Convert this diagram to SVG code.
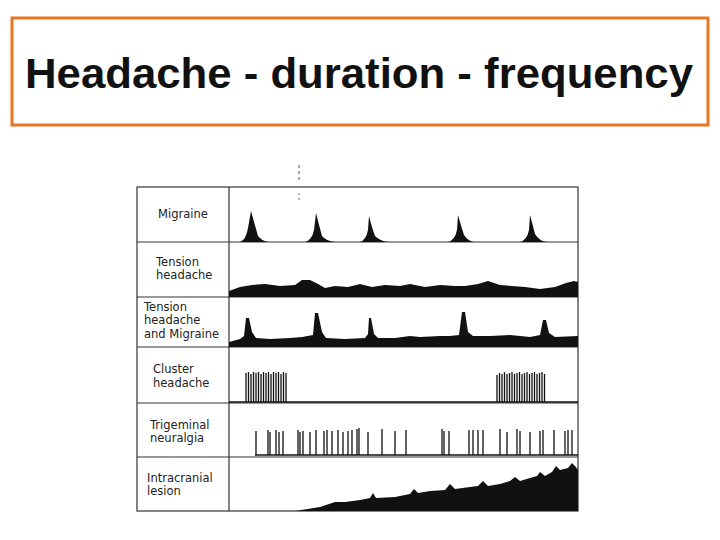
<svg xmlns="http://www.w3.org/2000/svg" width="720" height="540" viewBox="0 0 720 540">
<style>
.lbl{font-family:"DejaVu Sans","Liberation Sans",sans-serif;font-size:11.5px;fill:#222}
.grid{stroke:#333;stroke-width:1.2;fill:none}
.ink{fill:#111;stroke:none}
.sp{stroke:#111;stroke-width:1.3}
</style>
<rect width="720" height="540" fill="#fff"/>
<g id="title">
<rect x="12" y="18" width="696" height="107" fill="#fff" stroke="#e87722" stroke-width="3"/>
<text x="25" y="88" textLength="668" lengthAdjust="spacingAndGlyphs" font-family="Liberation Sans,Arial,sans-serif" font-weight="bold" font-size="42" fill="#111">Headache - duration - frequency</text>
</g>
<g id="table">
<rect x="137" y="187" width="441" height="324" class="grid"/>
<line x1="229" y1="187" x2="229" y2="511" class="grid"/>
<line x1="137" y1="242" x2="578" y2="242" class="grid"/>
<line x1="137" y1="297" x2="578" y2="297" class="grid"/>
<line x1="137" y1="347" x2="578" y2="347" class="grid"/>
<line x1="137" y1="403" x2="578" y2="403" class="grid"/>
<line x1="137" y1="457" x2="578" y2="457" class="grid"/>
<line x1="299" y1="165" x2="299" y2="180" stroke="#555" stroke-dasharray="3,3"/>
<line x1="299" y1="193" x2="299" y2="200" stroke="#777" stroke-dasharray="2,3"/>
</g>
<g id="migraine">
<text class="lbl" x="183" y="218" text-anchor="middle">Migraine</text>
<path class="ink" d="M240,242 Q246,240 248,228 L251,211 Q254,222 258,236 Q262,241 268,242Z M305,242 Q312,240 314,230 L316,213 Q319,225 322,236 Q326,241 335,242Z M360,242 Q366,240 368,230 L369,216 Q372,228 375,236 Q380,241 388,242Z M448,242 Q455,240 457,230 L458,215 Q461,226 464,235 Q468,241 474,242Z M520,242 Q527,240 529,230 L530,215 Q533,226 535,234 Q539,241 547,242Z"/>
</g>
<g id="tension">
<text class="lbl" x="156" y="266">Tension</text>
<text class="lbl" x="156" y="279">headache</text>
<path class="ink" d="M229,291 L240,287 L252,285 L265,284 L280,286 L295,285 L302,280 L310,280 L318,284 L325,288 L335,286 L348,287 L360,284 L372,287 L385,285 L400,286 L410,284 L425,287 L440,285 L455,286 L465,286 L478,284 L488,281 L500,285 L512,286 L525,287 L540,289 L555,287 L566,283 L574,281 L578,282 L578,297 L229,297Z"/>
</g>
<g id="tension-migraine">
<text class="lbl" x="144" y="311">Tension</text>
<text class="lbl" x="144" y="324">headache</text>
<text class="lbl" x="144" y="338">and Migraine</text>
<path class="ink" d="M229,342 L240,339 L244,336 L246,318 L249,318 L252,332 L256,338 L270,339 L290,338 L302,337 L313,335 L315,313 L318,313 L322,332 L326,338 L345,339 L365,338 L368,334 L369,318 L371,318 L374,334 L378,338 L395,338 L410,336 L420,337 L440,336 L450,336 L459,335 L462,312 L465,312 L468,332 L473,336 L490,336 L510,335 L530,337 L540,335 L543,320 L546,320 L549,333 L555,337 L578,336 L578,347 L229,347Z"/>
</g>
<g id="cluster">
<text class="lbl" x="153" y="373">Cluster</text>
<text class="lbl" x="153" y="387">headache</text>
<g class="sp" stroke-width="1">
<path d="M246,402V373M248.5,402V372M251,402V374M253.5,402V372M256,402V373M258.5,402V372M261,402V374M263.5,402V372M266,402V373M268.5,402V372M271,402V374M273.5,402V372M276,402V373M278.5,402V372M281,402V374M283.5,402V372M286,402V373"/>
<path d="M497,402V375M499.5,402V373M502,402V374M504.5,402V372M507,402V374M509.5,402V373M512,402V372M514.5,402V374M517,402V373M519.5,402V372M522,402V374M524.5,402V373M527,402V372M529.5,402V374M532,402V373M534.5,402V372M537,402V374M539.5,402V373M542,402V372M544.5,402V374"/>
<line x1="229" y1="402" x2="578" y2="402"/>
</g>
</g>
<g id="trigeminal">
<text class="lbl" x="150" y="429">Trigeminal</text>
<text class="lbl" x="150" y="442">neuralgia</text>
<g class="sp">
<path d="M256,455V431M268,455V430M270,455V432M276,455V430M279,455V432M283,455V431M298,455V430M300,455V432M303,455V431M310,455V432M316,455V430M324,455V431M327,455V430M332,455V431M338,455V430M343,455V432M348,455V431M352,455V430M357,455V429M359,455V428M368,455V432M382,455V429M395,455V431M406,455V430M442,455V429M444,455V431M449,455V431M469,455V430M473,455V430M478,455V430M483,455V430M500,455V429M507,455V432M517,455V429M520,455V431M530,455V432M540,455V431M543,455V430M554,455V430M565,455V431M568,455V430M572,455V430"/>
<line x1="255" y1="455" x2="578" y2="455"/>
</g>
</g>
<g id="intracranial">
<text class="lbl" x="147" y="482">Intracranial</text>
<text class="lbl" x="147" y="495">lesion</text>
<path class="ink" d="M295,511 L320,507 L335,502 L345,502 L360,500 L370,498 L373,493 L376,498 L395,497 L410,494 L414,489 L418,493 L430,491 L445,490 L450,484 L455,489 L470,487 L478,486 L483,481 L488,486 L500,484 L510,481 L515,477 L520,481 L530,478 L537,476 L540,472 L545,476 L552,472 L556,466 L560,470 L568,468 L572,463 L575,466 L578,470 L578,511Z"/>
</g>
</svg>
